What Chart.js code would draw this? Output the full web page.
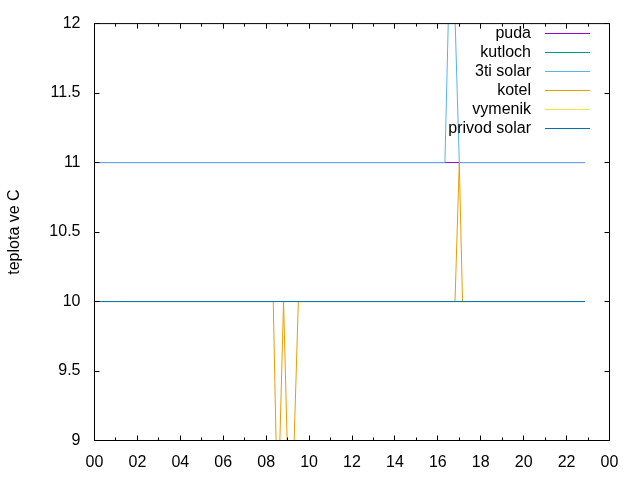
<!DOCTYPE html>
<html lang="cs">

<head>
    <meta charset="UTF-8">
    <title>teploty</title>
    <script src="https://cdn.jsdelivr.net/npm/chart.js"></script>
    <style>
        body { margin: 0; background: #fff; }
        #wrap { width: 640px; height: 480px; }
    </style>
</head>

<body>
    <div id="wrap"><canvas id="teploty"></canvas></div>

    <script>
        // cas v hodinach, hodnoty ve stupnich C
        const pudaT = [0, 22.86];
        const pudaV = [11, 11];
        const kutlochT = [0, 22.86];
        const kutlochV = [10, 10];
        const solar3T = [0, 16.33, 16.5, 16.67, 16.8, 17.0, 22.86];
        const solar3V = [11, 11, 12.1, 12.6, 12.05, 11, 11];
        const kotelT = [0, 8.33, 8.5, 8.63, 8.81, 8.98, 9.15, 9.3, 9.5, 16.8, 17.0, 17.15, 22.86];
        const kotelV = [10, 10, 8.7, 8.95, 10, 8.98, 8.5, 8.98, 10, 10, 11, 10, 10];
        const vymenikT = [0, 22.86];
        const vymenikV = [10, 10];
        const privodT = [0, 22.86];
        const privodV = [10, 10];

        const hourTicks = [0, 2, 4, 6, 8, 10, 12, 14, 16, 18, 20, 22, 24];
        const tempTicks = [9, 9.5, 10, 10.5, 11, 11.5, 12];

        function pts(t, v) {
            return t.map((x, i) => ({ x: x, y: v[i] }));
        }

        // gnuplot kresli posledni serii navrch -> order podle indexu
        function serie(label, t, v, color, idx) {
            return {
                label: label,
                data: pts(t, v),
                borderColor: color,
                backgroundColor: color,
                borderWidth: 1,
                pointRadius: 0,
                tension: 0,
                fill: false,
                order: -idx
            };
        }

        // ramecek, ticky dovnitr a legenda vpravo nahore jako v gnuplotu
        const gnuFrame = {
            id: 'gnuFrame',
            afterDatasetsDraw(chart) {
                const ctx = chart.ctx;
                const a = chart.chartArea;
                const xs = chart.scales.x;
                const ys = chart.scales.y;
                const L = a.left, R = a.right, T = a.top, B = a.bottom;
                ctx.save();
                ctx.strokeStyle = '#000';
                ctx.lineWidth = 1;
                ctx.beginPath();
                ctx.rect(L, T, R - L, B - T);
                for (let h = 0; h <= 24; h++) {
                    const len = h % 2 === 0 ? 5 : 3;
                    const px = Math.floor(xs.getPixelForValue(h)) + 0.5;
                    ctx.moveTo(px, B); ctx.lineTo(px, B - len);
                    ctx.moveTo(px, T); ctx.lineTo(px, T + len);
                }
                tempTicks.forEach(v => {
                    const py = Math.floor(ys.getPixelForValue(v)) + 0.5;
                    ctx.moveTo(L, py); ctx.lineTo(L + 5, py);
                    ctx.moveTo(R, py); ctx.lineTo(R - 5, py);
                });
                ctx.stroke();

                // key
                ctx.font = '16px "Liberation Sans", Arial, sans-serif';
                ctx.textAlign = 'right';
                ctx.textBaseline = 'middle';
                chart.data.datasets.forEach((ds, i) => {
                    const y = 33.5 + i * 19;
                    ctx.fillStyle = '#000';
                    ctx.fillText(ds.label, 531, y);
                    ctx.strokeStyle = ds.borderColor;
                    ctx.beginPath();
                    ctx.moveTo(545, y);
                    ctx.lineTo(590, y);
                    ctx.stroke();
                });
                ctx.restore();
            }
        };

        Chart.defaults.color = '#000';
        Chart.defaults.font.family = '"Liberation Sans", Arial, sans-serif';
        Chart.defaults.font.size = 16;

        new Chart(document.getElementById('teploty'), {
            type: 'line',
            data: {
                datasets: [
                    serie('puda', pudaT, pudaV, '#9400d3', 0),
                    serie('kutloch', kutlochT, kutlochV, '#009e73', 1),
                    serie('3ti solar', solar3T, solar3V, '#56b4e9', 2),
                    serie('kotel', kotelT, kotelV, '#e69f00', 3),
                    serie('vymenik', vymenikT, vymenikV, '#f0e442', 4),
                    serie('privod solar', privodT, privodV, '#0072b2', 5)
                ]
            },
            plugins: [gnuFrame],
            options: {
                responsive: true,
                maintainAspectRatio: false,
                animation: false,
                layout: {
                    padding: { top: 20.5, right: 30.5, bottom: 0, left: 0 }
                },
                plugins: {
                    legend: { display: false },
                    tooltip: { enabled: false }
                },
                scales: {
                    x: {
                        type: 'linear',
                        min: 0,
                        max: 24,
                        afterBuildTicks: s => { s.ticks = hourTicks.map(v => ({ value: v })); },
                        ticks: {
                            padding: 12,
                            maxRotation: 0,
                            autoSkip: false,
                            callback: v => String(v % 24).padStart(2, '0')
                        },
                        grid: { display: false, drawTicks: false },
                        border: { display: false },
                        afterFit: s => { s.height = 39.5; }
                    },
                    y: {
                        min: 9,
                        max: 12,
                        afterBuildTicks: s => { s.ticks = tempTicks.map(v => ({ value: v })); },
                        ticks: {
                            padding: 14,
                            autoSkip: false,
                            callback: v => String(v)
                        },
                        grid: { display: false, drawTicks: false },
                        border: { display: false },
                        title: {
                            display: true,
                            text: 'teplota ve C',
                            padding: { top: 5, bottom: 0 }
                        },
                        afterFit: s => { s.width = 94.5; }
                    }
                }
            }
        });
    </script>
</body>

</html>
